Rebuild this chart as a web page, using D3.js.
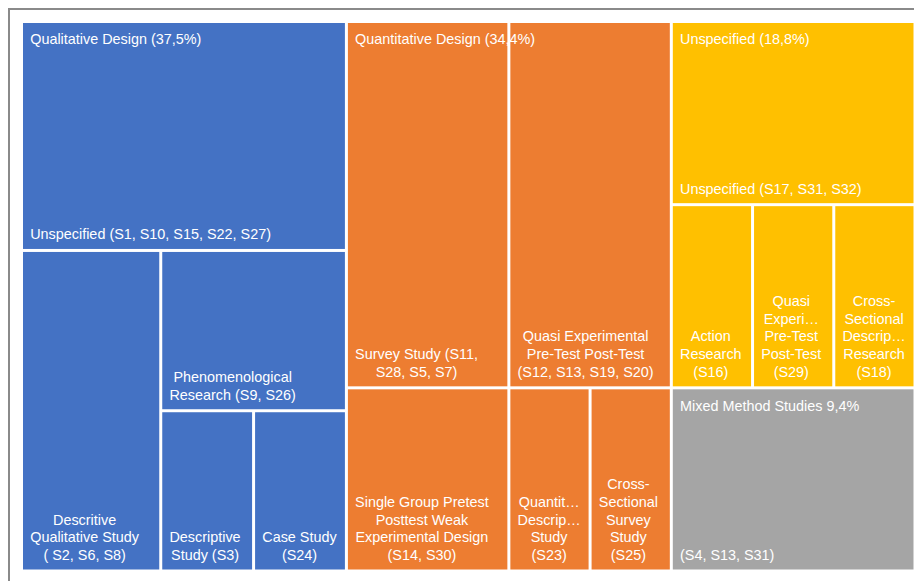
<!DOCTYPE html>
<html>
<head>
<meta charset="utf-8">
<script src="https://cdn.jsdelivr.net/npm/d3@7"></script>
<style>
  body { margin: 0; background: #fff; }
  svg { display: block; }
  text { font-family: "Liberation Sans", Arial, sans-serif; fill: #fff; }
</style>
</head>
<body>
<svg id="chart" width="914" height="581"></svg>
<script>
// Research designs of the reviewed studies, with the study codes in each design
const groups = ["Qualitative Design (37,5%)", "Quantitative Design (34,4%)", "Unspecified (18,8%)", "Mixed Method Studies 9,4%"];
const groupColors = ["#4472C4", "#ED7D31", "#FFC000", "#A5A5A5"];

const qualitativeDesigns = ["Unspecified (S1, S10, S15, S22, S27)", "Descritive Qualitative Study ( S2, S6, S8)", "Phenomenological Research (S9, S26)", "Descriptive Study (S3)", "Case Study (S24)"];
const qualitativeCounts = [5, 3, 2, 1, 1];

const quantitativeDesigns = ["Survey Study (S11, S28, S5, S7)", "Quasi Experimental Pre-Test Post-Test (S12, S13, S19, S20)", "Single Group Pretest Posttest Weak Experimental Design (S14, S30)", "Quantitative Descriptive Study (S23)", "Cross-Sectional Survey Study (S25)"];
const quantitativeCounts = [4, 4, 2, 1, 1];

const unspecifiedDesigns = ["Unspecified (S17, S31, S32)", "Action Research (S16)", "Quasi Experimental Pre-Test Post-Test (S29)", "Cross-Sectional Descriptive Research (S18)"];
const unspecifiedCounts = [3, 1, 1, 1];

const mixedDesigns = ["(S4, S13, S31)"];
const mixedCounts = [3];

const leafNames = [qualitativeDesigns, quantitativeDesigns, unspecifiedDesigns, mixedDesigns];
const leafCounts = [qualitativeCounts, quantitativeCounts, unspecifiedCounts, mixedCounts];

const tree = {
  name: "designs",
  children: groups.map((g, i) => ({
    name: g,
    color: groupColors[i],
    children: leafNames[i].map((n, j) => ({ name: n, value: leafCounts[i][j] }))
  }))
};

// Layout constants
const X0 = 23, Y0 = 23, W = 890.5, H = 546.5;
const FONT = 14.4, PAD = 7.2, LINE = 17.6, ASC = 0.905, DESC = 0.212;

// Squarified tiling that aims for cells slightly taller than wide
function tallSquarify(target) {
  return function (parent, x0, y0, x1, y1) {
    const nodes = parent.children;
    let value = parent.value, i0 = 0;
    const worst = (sum, vals, dx, dy, dice) => {
      let w = 0;
      for (const v of vals) {
        let cw, ch;
        if (dice) { ch = dy * sum / value; cw = dx * v / sum; }
        else { cw = dx * sum / value; ch = dy * v / sum; }
        const r = ch / cw;
        w = Math.max(w, r / target, target / r);
      }
      return w;
    };
    while (i0 < nodes.length) {
      const dx = x1 - x0, dy = y1 - y0, dice = dx < dy;
      let i1 = i0 + 1, sum = nodes[i0].value;
      let best = worst(sum, [sum], dx, dy, dice);
      while (i1 < nodes.length) {
        const s = sum + nodes[i1].value;
        const r = worst(s, nodes.slice(i0, i1 + 1).map(n => n.value), dx, dy, dice);
        if (r > best) break;
        best = r; sum = s; i1++;
      }
      const row = { value: sum, children: nodes.slice(i0, i1) };
      const last = i1 >= nodes.length;
      if (dice) {
        const yk = last ? y1 : y0 + dy * sum / value;
        d3.treemapDice(row, x0, y0, x1, yk);
        y0 = yk;
      } else {
        const xk = last ? x1 : x0 + dx * sum / value;
        d3.treemapSlice(row, x0, y0, xk, y1);
        x0 = xk;
      }
      value -= sum;
      i0 = i1;
    }
  };
}

const root = d3.hierarchy(tree)
  .sum(d => d.value || 0)
  .sort((a, b) => b.value - a.value);

d3.treemap()
  .tile(tallSquarify(1.3))
  .size([W, H])
  .paddingInner(3)(root);

const svg = d3.select("#chart");

// Outer frame
svg.append("rect")
  .attr("x", 9).attr("y", 9)
  .attr("width", 1000).attr("height", 1000)
  .attr("fill", "none")
  .attr("stroke", "#8a8a8a")
  .attr("stroke-width", 2);

const plot = svg.append("g").attr("transform", `translate(${X0},${Y0})`);

// Text measurement helper
const probe = svg.append("text").attr("font-size", FONT).attr("visibility", "hidden");
function measure(s) {
  probe.text(s);
  return probe.node().getComputedTextLength();
}

// Break opportunities after spaces and hyphens, never right after an opening bracket
function splitSegments(str) {
  const segs = [];
  let cur = "";
  for (let k = 0; k < str.length; k++) {
    const ch = str[k], next = str[k + 1];
    cur += ch;
    if (next === undefined) break;
    if ((ch === " " && next !== " ") || (ch === "-" && next !== " ")) {
      segs.push(cur); cur = "";
    }
  }
  if (cur) segs.push(cur);
  for (let k = segs.length - 2; k >= 0; k--) {
    if (/^\(\s*$/.test(segs[k])) { segs[k] += segs[k + 1]; segs.splice(k + 1, 1); }
  }
  return segs;
}

function truncate(s, maxW) {
  let t = s;
  while (t.length > 1 && measure(t + "\u2026") > maxW) t = t.slice(0, -1);
  return t + "\u2026";
}

function wrap(str, maxW) {
  const lines = [];
  let line = "";
  for (const seg of splitSegments(str)) {
    const trial = line + seg;
    if (line && measure(trial.trimEnd()) > maxW) {
      lines.push(line.trimEnd());
      line = seg;
    } else {
      line = trial;
    }
  }
  if (line) lines.push(line.trimEnd());
  return lines.map(l => (measure(l) > maxW ? truncate(l, maxW) : l));
}

const leaves = root.leaves();

// Cells
plot.selectAll("rect.cell")
  .data(leaves)
  .join("rect")
  .attr("class", "cell")
  .attr("x", d => d.x0)
  .attr("y", d => d.y0)
  .attr("width", d => d.x1 - d.x0)
  .attr("height", d => d.y1 - d.y0)
  .attr("fill", d => d.parent.data.color);

// Leaf labels: wrapped, lines centred in a block anchored bottom-left
leaves.forEach(d => {
  const maxW = d.x1 - d.x0 - 2 * PAD;
  const lines = wrap(d.data.name, maxW);
  const blockW = d3.max(lines, measure);
  const cx = d.x0 + PAD + blockW / 2;
  const lastBase = d.y1 - PAD - DESC * FONT + 0.6;
  const t = plot.append("text")
    .attr("class", "leaf-label")
    .attr("font-size", FONT)
    .attr("text-anchor", "middle");
  lines.forEach((l, k) => {
    t.append("tspan")
      .attr("x", cx)
      .attr("y", lastBase - (lines.length - 1 - k) * LINE)
      .text(l);
  });
});

// Group labels at the top-left of each group
plot.selectAll("text.group-label")
  .data(root.children)
  .join("text")
  .attr("class", "group-label")
  .attr("font-size", FONT)
  .attr("x", d => d.x0 + PAD)
  .attr("y", d => d.y0 + PAD + ASC * FONT + 1)
  .text(d => d.data.name);

probe.remove();
</script>
</body>
</html>
